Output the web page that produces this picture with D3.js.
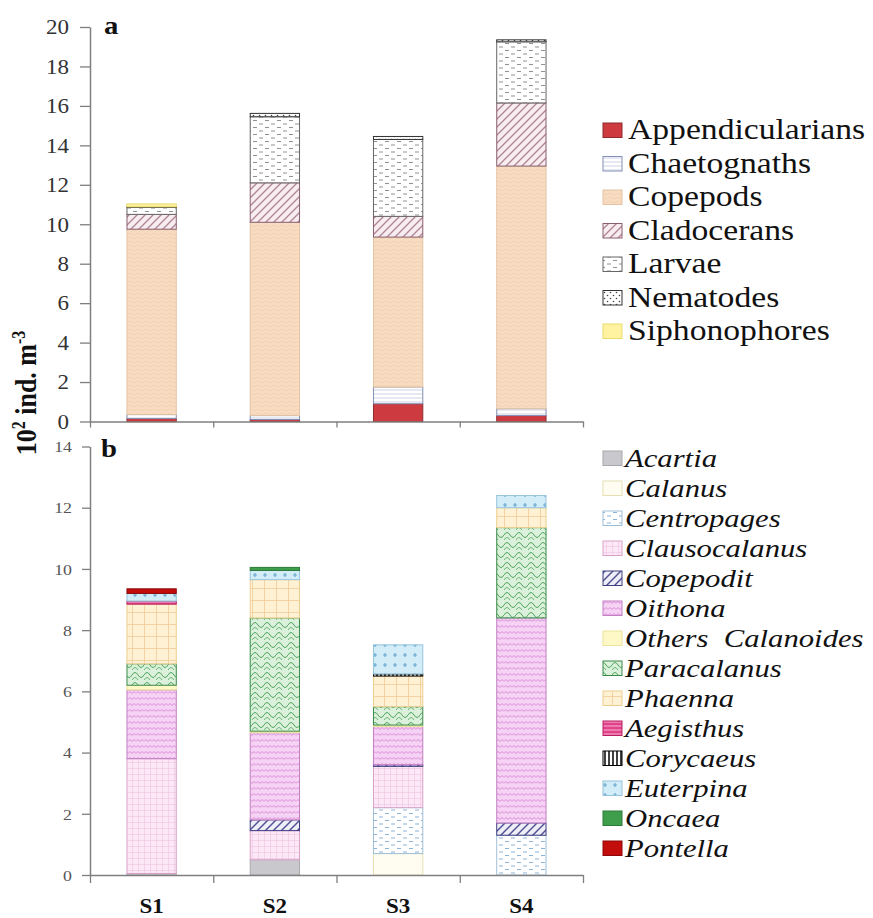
<!DOCTYPE html>
<html><head><meta charset="utf-8">
<script src="https://cdn.jsdelivr.net/npm/d3@7"></script>
<style>body{margin:0;background:#fff}svg{display:block}</style>
</head><body><div id="chart"></div>
<script>
// ---------- DATA ----------
const stations = ["S1", "S2", "S3", "S4"];

// panel a (10^2 ind. m^-3), stacked bottom -> top
const groupsA = ["Appendicularians", "Chaetognaths", "Copepods", "Cladocerans", "Larvae", "Nematodes", "Siphonophores"];
const appendicularians = [0.15, 0.10, 0.90, 0.30];
const chaetognaths     = [0.20, 0.20, 0.85, 0.35];
const copepods         = [9.40, 9.80, 7.60, 12.30];
const cladocerans      = [0.75, 2.00, 1.05, 3.20];
const larvae           = [0.35, 3.35, 3.90, 3.10];
const nematodes        = [0.03, 0.17, 0.15, 0.10];
const siphonophores    = [0.15, 0.00, 0.00, 0.00];
const valuesA = [appendicularians, chaetognaths, copepods, cladocerans, larvae, nematodes, siphonophores];
const ticksA = [0, 2, 4, 6, 8, 10, 12, 14, 16, 18, 20];

// panel b (10^2 ind. m^-3), stacked bottom -> top
const groupsB = ["Acartia", "Calanus", "Centropages", "Clausocalanus", "Copepodit", "Oithona", "Others  Calanoides", "Paracalanus", "Phaenna", "Aegisthus", "Corycaeus", "Euterpina", "Oncaea", "Pontella"];
const acartia       = [0.05, 0.50, 0.00, 0.00];
const calanus       = [0.00, 0.00, 0.70, 0.00];
const centropages   = [0.00, 0.00, 1.50, 1.30];
const clausocalanus = [3.75, 0.95, 1.35, 0.00];
const copepodit     = [0.00, 0.35, 0.05, 0.40];
const oithona       = [2.25, 2.85, 1.25, 6.70];
const othersCal     = [0.15, 0.05, 0.05, 0.00];
const paracalanus   = [0.70, 3.70, 0.60, 2.95];
const phaenna       = [1.95, 1.25, 1.00, 0.65];
const aegisthus     = [0.10, 0.00, 0.00, 0.00];
const corycaeus     = [0.00, 0.00, 0.07, 0.00];
const euterpina     = [0.25, 0.30, 0.95, 0.40];
const oncaea        = [0.00, 0.10, 0.00, 0.00];
const pontella      = [0.15, 0.00, 0.00, 0.00];
const valuesB = [acartia, calanus, centropages, clausocalanus, copepodit, oithona, othersCal, paracalanus, phaenna, aegisthus, corycaeus, euterpina, oncaea, pontella];
const ticksB = [0, 2, 4, 6, 8, 10, 12, 14];

// ---------- STYLES ----------
const FONT = "Liberation Serif";
const SX = 1.15; // horizontal stretch of the original figure
const axisColor = "#7f7f7f";

const svg = d3.select("#chart").append("svg").attr("width", 873).attr("height", 918)
  .style("font-family", FONT);
const defs = svg.append("defs");

function pat(id, w, h, bg, draw) {
  const p = defs.append("pattern").attr("id", id).attr("patternUnits", "userSpaceOnUse")
    .attr("width", w).attr("height", h);
  p.append("rect").attr("width", w).attr("height", h).attr("fill", bg);
  draw(p);
  return `url(#${id})`;
}
const pth = (p, d, c, sw) => p.append("path").attr("d", d).attr("fill", "none").attr("stroke", c).attr("stroke-width", sw);

const styleA = [
  {fill: "#cd3b40", stroke: "#8e2a2e"},
  {fill: pat("pChaet", 6, 4, "#ffffff", p => pth(p, "M0 2h6", "#c0c8e0", 0.8)), stroke: "#8490b5"},
  {fill: pat("pCop", 8, 4, "#f8dcc1", p => pth(p, "M0 2Q2 0.5 4 2T8 2", "#ecc9a8", 0.6)), stroke: "#e3c3a3"},
  {fill: pat("pClad", 8, 8, "#f7ecef", p => { pth(p, "M-1 9L9 -1M-3 3L3 -3M5 11L11 5", "#b08593", 1.3); }), stroke: "#8a6070"},
  {fill: pat("pLarv", 12, 7, "#ffffff", p => pth(p, "M1 1.5h4M7 5h4", "#858585", 0.9)), stroke: "#666"},
  {fill: pat("pNem", 6, 6, "#ffffff", p => { p.append("circle").attr("cx", 1.5).attr("cy", 1.5).attr("r", 0.8).attr("fill", "#444"); p.append("circle").attr("cx", 4.5).attr("cy", 4.5).attr("r", 0.8).attr("fill", "#444"); }), stroke: "#333"},
  {fill: "#fff3a2", stroke: "#eadb6a"}
];

const styleB = [
  {fill: "#c9c9cd", stroke: "#a8a8ae"},
  {fill: "#fffdf2", stroke: "#e6dfb2"},
  {fill: pat("bCen", 12, 7, "#ffffff", p => pth(p, "M1 1.5h4M7 5h4", "#8db4d6", 1)), stroke: "#9fbfd8"},
  {fill: pat("bCla", 6, 6, "#fce8f6", p => pth(p, "M0 0.5h6M0.5 0v6", "#efc2e3", 0.6)), stroke: "#d9a2c9"},
  {fill: pat("bCpd", 8, 8, "#eeeef7", p => pth(p, "M-1 9L9 -1M-3 3L3 -3M5 11L11 5", "#4c4c92", 1.4)), stroke: "#3e3e80"},
  {fill: pat("bOit", 8, 6, "#f6d2f4", p => pth(p, "M0 3.5L2 1.5L4 3.5L6 1.5L8 3.5", "#c86ac8", 0.7)), stroke: "#c27fc2"},
  {fill: "#fdf8c6", stroke: "#ece39c"},
  {fill: pat("bPar", 12, 10, "#dcf1dc", p => { pth(p, "M0 5Q3 0 6 5Q9 10 12 5", "#3b9a4b", 0.9); pth(p, "M0 10Q3 5 6 10", "#3b9a4b", 0.7); }), stroke: "#3a8a4a"},
  {fill: pat("bPha", 12, 12, "#fff2d4", p => pth(p, "M0 0.5h12M0.5 0v12", "#f2ca98", 0.8)), stroke: "#eccd8e"},
  {fill: pat("bAeg", 4, 4, "#e2428a", p => pth(p, "M0 2h4", "#f7b4d2", 1)), stroke: "#b81e62"},
  {fill: pat("bCor", 4, 4, "#ffffff", p => pth(p, "M1 0v4", "#111", 1.6)), stroke: "#000"},
  {fill: pat("bEut", 10, 10, "#d3edf8", p => pth(p, "M5 3v4M3 5h4", "#6aa8d0", 1.2)), stroke: "#95c4dc"},
  {fill: "#3f9e4c", stroke: "#2c7a38"},
  {fill: "#c30d0d", stroke: "#8d0808"}
];

// ---------- helpers ----------
function label(g, x, y, s, size, opts = {}) {
  return g.append("text")
    .attr("transform", `translate(${x},${y}) scale(${opts.sx || SX},1)`)
    .style("font-family", FONT)
    .style("font-size", size + "px")
    .style("font-weight", opts.bold ? "bold" : "normal")
    .style("font-style", opts.italic ? "italic" : "normal")
    .style("white-space", "pre")
    .attr("text-anchor", opts.anchor || "start")
    .attr("fill", opts.color || "#111")
    .text(s);
}

function panel(cfg) {
  const g = svg.append("g");
  const x = d3.scaleBand().domain(stations).range([90, 583]).paddingInner(0.6).paddingOuter(0.3);
  const xl = d3.scaleLinear().domain([0, stations.length]).range([90, 583]);
  const y = d3.scaleLinear().domain([0, cfg.max]).range(cfg.yr);

  const rows = stations.map((s, i) => {
    const o = {station: s};
    cfg.groups.forEach((k, j) => o[k] = cfg.values[j][i]);
    return o;
  });
  const series = d3.stack().keys(cfg.groups)(rows);

  series.forEach((ser, j) => {
    g.append("g").selectAll("rect").data(ser.filter(d => d[1] - d[0] > 0)).join("rect")
      .attr("x", d => x(d.data.station))
      .attr("width", x.bandwidth())
      .attr("y", d => y(d[1]))
      .attr("height", d => y(d[0]) - y(d[1]))
      .attr("fill", cfg.styles[j].fill)
      .attr("stroke", cfg.styles[j].stroke)
      .attr("stroke-width", 1);
  });

  // y axis
  const ya = g.append("g").attr("transform", "translate(90,0)")
    .call(d3.axisLeft(y).tickValues(cfg.ticks).tickSize(cfg.tick).tickSizeOuter(0));
  ya.attr("font-family", null).attr("font-size", null);
  ya.select(".domain").attr("stroke", axisColor).attr("stroke-width", 1.5);
  ya.selectAll(".tick line").attr("stroke", axisColor).attr("stroke-width", 1.3);
  ya.selectAll(".tick text").attr("x", null).attr("dy", null)
    .attr("transform", `translate(${-cfg.lblOff},${cfg.fs * 0.34}) scale(${SX},1)`)
    .style("font-family", FONT).style("font-size", cfg.fs + "px")
    .attr("fill", cfg.tickColor);

  // x axis
  const xa = g.append("g").attr("transform", `translate(0,${cfg.yr[0]})`)
    .call(d3.axisBottom(xl).tickValues(d3.range(0, stations.length + 1)).tickSize(cfg.xtick).tickSizeOuter(0).tickFormat(""));
  xa.select(".domain").attr("stroke", axisColor).attr("stroke-width", 1.5);
  xa.selectAll(".tick line").attr("stroke", axisColor).attr("stroke-width", 1.3);

  // panel letter
  label(g, cfg.letterX, cfg.letterY, cfg.letter, 25, {bold: true});

  // legend
  const lg = svg.append("g");
  cfg.groups.forEach((k, j) => {
    const by = cfg.legY + j * cfg.legStep;
    lg.append("rect").attr("x", 603).attr("y", by - 16).attr("width", 19).attr("height", 14.5)
      .attr("fill", cfg.styles[j].fill).attr("stroke", cfg.styles[j].stroke).attr("stroke-width", 1);
    label(lg, cfg.legTextX, by, k, cfg.legFs, {italic: cfg.italic, sx: cfg.legSx});
  });
  return {x, y};
}

const pa = panel({
  groups: groupsA, values: valuesA, styles: styleA, max: 20, yr: [421.5, 27], ticks: ticksA,
  tick: 10, xtick: 6, lblOff: 21, fs: 20, tickColor: "#333",
  letter: "a", letterX: 104, letterY: 34,
  legY: 139, legStep: 33.5, legTextX: 628, legFs: 29.5, legSx: 1.14, italic: false
});

const pb = panel({
  groups: groupsB, values: valuesB, styles: styleB, max: 14, yr: [875, 446.5], ticks: ticksB,
  tick: 8, xtick: 8, lblOff: 18, fs: 15.5, tickColor: "#555",
  letter: "b", letterX: 101, letterY: 457,
  legY: 467, legStep: 30, legTextX: 625, legFs: 26, legSx: 1.18, italic: true
});

// x category labels
stations.forEach(s => {
  label(svg, pb.x(s) + pb.x.bandwidth() / 2, 913, s, 20, {bold: true, anchor: "middle"});
});

// y-axis title
const yt = svg.append("text")
  .attr("transform", "translate(36,393) rotate(-90) scale(1,1.15)")
  .attr("text-anchor", "middle")
  .style("font-family", FONT).style("font-size", "26px").style("font-weight", "bold")
  .attr("fill", "#111");
yt.append("tspan").text("10");
yt.append("tspan").attr("dy", -10).style("font-size", "16px").text("2");
yt.append("tspan").attr("dy", 10).text(" ind. m");
yt.append("tspan").attr("dy", -10).style("font-size", "16px").text("-3");
</script></body></html>
